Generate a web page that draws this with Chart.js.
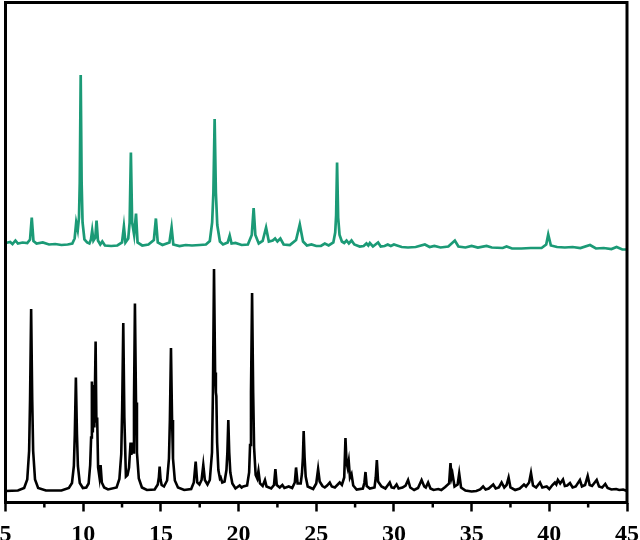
<!DOCTYPE html>
<html>
<head>
<meta charset="utf-8">
<script src="https://cdn.jsdelivr.net/npm/chart.js@4/dist/chart.umd.min.js"></script>
<style>
  html, body { margin: 0; padding: 0; background: #fff; }
  #wrap { width: 640px; height: 540px; }
</style>
</head>
<body>
<div id="wrap"><canvas id="c" width="640" height="540"></canvas></div>
<script>
// X axis tick labels (2θ)
const xTickValues = [5, 10, 15, 20, 25, 30, 35, 40, 45];

// Bottom pattern (black): [2θ, intensity]
const blackPattern = [
  [5.0,2.3],[5.8,2.4],[6.2,2.9],[6.4,4.6],[6.52,10.3],[6.58,20.5],[6.65,38.7],[6.72,20.5],[6.78,10.3],[6.9,4.6],
  [7.1,2.9],[7.6,2.4],[8.6,2.4],[9.08,2.9],[9.28,3.9],[9.40,7.3],[9.46,13.6],[9.53,25.0],[9.60,13.6],[9.66,7.3],
  [9.78,3.9],[9.98,2.9],[10.2,3.0],[10.35,3.8],[10.45,7.5],[10.51,13],[10.56,24.2],[10.62,14],[10.67,23.5],[10.72,15],
  [10.80,32.2],[10.85,16],[10.9,17],[10.96,7],[11.05,5],[11.12,7.5],[11.2,4],[11.35,3.0],[11.6,2.6],[12.15,3.0],
  [12.33,4.7],[12.45,9.7],[12.51,19],[12.58,35.9],[12.65,17],[12.75,5.2],[12.85,5.5],[12.95,7],[13.05,12.0],[13.10,9.5],
  [13.16,12.0],[13.22,10],[13.27,20],[13.33,39.8],[13.40,20],[13.46,10],[13.58,4.8],[13.78,3.0],[14.1,2.5],[14.6,2.6],
  [14.8,3.6],[14.87,5],[14.92,7.2],[14.98,4.6],[15.05,3.5],[15.2,3.2],[15.40,4.4],[15.52,8.8],[15.58,16.5],[15.65,30.9],
  [15.72,16.5],[15.78,8.8],[15.9,4.4],[16.1,3.0],[16.5,2.5],[16.95,2.7],[17.12,4],[17.24,8.2],[17.34,4],[17.48,3.6],
  [17.62,4.5],[17.73,7.5],[17.83,4.5],[18.0,3.6],[18.15,4.5],[18.29,10],[18.35,22],[18.42,46.7],[18.49,26],[18.54,22],
  [18.57,21.3],[18.62,12],[18.7,6.5],[18.8,4.8],[18.85,5.0],[18.95,4],[19.1,4.2],[19.22,6.5],[19.28,10],[19.34,16.5],
  [19.40,10],[19.47,6],[19.6,3.8],[19.8,2.8],[20.07,3.4],[20.2,3.0],[20.3,3.2],[20.55,3.4],[20.68,6],[20.74,11.5],
  [20.80,22],[20.87,41.9],[20.94,22],[21.0,11],[21.1,5.5],[21.2,4.8],[21.28,6.3],[21.38,3.8],[21.55,3.3],[21.7,4.5],
  [21.8,3.2],[22.1,2.8],[22.28,3.5],[22.37,6.7],[22.46,3.5],[22.65,3.0],[22.82,3.5],[22.95,2.9],[23.23,3.2],[23.45,2.9],
  [23.62,4],[23.70,7.0],[23.8,3.8],[24.0,3.8],[24.08,5.8],[24.14,9],[24.19,14.3],[24.25,9],[24.32,5.2],[24.45,3.2],
  [24.8,2.7],[25.0,3.8],[25.12,6.7],[25.22,4.2],[25.4,3.3],[25.55,3.0],[25.7,3.4],[25.87,4.0],[26.0,3.2],[26.2,3.0],
  [26.51,4.0],[26.65,3.5],[26.8,5],[26.88,12.9],[26.95,8],[27.02,7],[27.09,8.3],[27.17,5],[27.27,5.7],[27.38,3.4],
  [27.6,2.6],[28.0,2.8],[28.1,4],[28.17,6.1],[28.25,3.3],[28.45,2.8],[28.75,3.0],[28.83,5],[28.90,8.5],[28.98,4.2],
  [29.2,3.2],[29.45,2.8],[29.73,4.0],[29.85,3.0],[30.0,2.9],[30.17,3.6],[30.3,2.8],[30.55,3.0],[30.75,3.4],[30.91,4.5],
  [31.05,3.0],[31.3,2.5],[31.55,2.9],[31.78,4.5],[31.95,3.2],[32.05,3.0],[32.2,4.0],[32.35,2.8],[32.55,2.5],[32.85,2.7],
  [33.05,2.5],[33.3,3.1],[33.55,3.8],[33.64,7.9],[33.71,5],[33.77,5.7],[33.9,3.2],[34.1,3.6],[34.2,5.8],[34.32,3.0],
  [34.6,2.4],[35.0,2.2],[35.3,2.3],[35.55,2.6],[35.74,3.2],[35.9,2.6],[36.1,2.8],[36.39,3.6],[36.55,2.8],[36.75,3.0],
  [36.93,4.0],[37.1,3.0],[37.25,3.5],[37.38,5.0],[37.5,3.0],[37.8,2.5],[38.1,2.8],[38.37,3.6],[38.5,3.2],[38.7,4],
  [38.82,5.9],[38.95,3.4],[39.15,3.0],[39.4,4.0],[39.55,3.0],[39.83,3.2],[40.0,2.7],[40.2,3.5],[40.36,4.0],[40.45,3.6],
  [40.55,4.5],[40.7,3.8],[40.88,4.6],[41.0,3.3],[41.15,3.4],[41.33,3.9],[41.5,3.0],[41.7,3.2],[41.97,4.5],[42.1,3.2],
  [42.3,3.5],[42.47,5.3],[42.6,3.5],[42.75,3.3],[43.05,4.5],[43.2,3.2],[43.4,3.0],[43.6,3.7],[43.75,2.9],[44.0,2.6],
  [44.3,2.7],[44.5,2.5],[44.75,2.6],[45.0,2.3]
];

// Top pattern (green, offset): [2θ, intensity]
const greenPattern = [
  [5.0,51.9],[5.3,52.1],[5.45,51.7],[5.64,52.4],[5.8,51.8],[6.1,52.0],[6.4,51.9],[6.58,52.6],[6.69,57.0],[6.8,52.3],
  [7.0,51.8],[7.4,52.0],[7.8,51.6],[8.2,51.7],[8.6,51.5],[9.0,51.6],[9.3,51.8],[9.45,52.8],[9.55,56.0],[9.65,54.5],
  [9.73,57],[9.78,64],[9.84,85.5],[9.90,64],[9.96,56],[10.08,52.6],[10.25,52.0],[10.4,51.8],[10.5,52.6],[10.58,54.4],
  [10.66,52.4],[10.78,53],[10.86,56.4],[10.95,52.4],[11.1,51.6],[11.23,52.2],[11.4,51.4],[11.8,51.3],[12.2,51.4],[12.5,52],
  [12.62,55.2],[12.72,52.0],[12.9,52.8],[12.99,56],[13.07,70.0],[13.15,56],[13.28,53.5],[13.40,57.8],[13.5,52.0],[13.8,51.4],
  [14.2,51.6],[14.55,52.5],[14.68,56.8],[14.8,52.0],[15.1,51.5],[15.55,52],[15.69,55.0],[15.8,51.6],[16.2,51.3],[16.6,51.5],
  [17.0,51.4],[17.5,51.5],[17.9,51.6],[18.15,52.3],[18.3,56],[18.38,62],[18.46,76.7],[18.54,62],[18.63,55.5],[18.8,52.2],
  [19.0,51.6],[19.3,52],[19.43,53.4],[19.55,51.8],[19.8,51.9],[20.2,51.5],[20.6,51.6],[20.85,53.5],[20.97,58.9],[21.08,53.5],
  [21.3,51.8],[21.55,52.3],[21.77,55.0],[21.95,52.2],[22.2,52.4],[22.35,52.8],[22.5,52.2],[22.69,52.8],[22.9,51.6],[23.3,51.5],
  [23.7,52.5],[23.94,55.6],[24.15,52.2],[24.4,51.4],[24.69,51.6],[25.0,51.3],[25.3,51.3],[25.55,51.8],[25.8,51.4],[26.1,52],
  [26.22,54],[26.28,57.5],[26.34,68.0],[26.41,57],[26.5,53.5],[26.65,52.2],[26.8,51.9],[26.95,52.4],[27.1,51.8],[27.27,52.4],
  [27.45,51.6],[27.8,51.2],[28.05,51.3],[28.23,51.8],[28.35,51.4],[28.45,51.9],[28.65,51.2],[28.98,52.0],[29.15,51.2],[29.4,51.3],
  [29.6,51.6],[29.8,51.3],[30.0,51.6],[30.2,51.4],[30.5,51.1],[30.9,51.0],[31.4,51.1],[31.99,51.6],[32.3,51.1],[32.6,51.3],
  [33.0,51.0],[33.5,51.2],[33.92,52.4],[34.15,51.2],[34.6,51.0],[35.0,51.3],[35.4,51.0],[35.96,51.3],[36.3,51.0],[37.0,50.9],
  [37.25,51.2],[37.6,50.8],[38.2,50.8],[38.8,50.9],[39.5,50.9],[39.8,51.6],[39.93,53.6],[40.1,51.4],[40.5,51.1],[41.0,51.0],
  [41.5,51.1],[42.0,50.9],[42.62,51.5],[43.0,50.8],[43.5,50.9],[44.0,50.7],[44.33,51.1],[44.7,50.6],[45.0,50.6]
];

const toPoints = pairs => pairs.map(p => ({ x: p[0], y: p[1] }));

const framePlugin = {
  id: 'frame',
  afterDraw(chart) {
    const { ctx, chartArea: a, scales } = chart;
    ctx.save();
    // minor ticks on the bottom axis, positioned via the x scale
    ctx.strokeStyle = '#000';
    ctx.lineWidth = 2.5;
    for (let i = 0; i < xTickValues.length - 1; i++) {
      const v = (xTickValues[i] + xTickValues[i + 1]) / 2;
      const px = scales.x.getPixelForValue(v);
      ctx.beginPath();
      ctx.moveTo(px, a.bottom);
      ctx.lineTo(px, a.bottom + 5);
      ctx.stroke();
    }
    ctx.lineWidth = 3;
    ctx.strokeRect(a.left, a.top, a.right - a.left, a.bottom - a.top);
    ctx.restore();
  }
};

new Chart(document.getElementById('c'), {
  type: 'line',
  data: {
    datasets: [
      {
        label: 'top',
        data: toPoints(greenPattern),
        borderColor: '#1B9A76',
        borderWidth: 2.7,
        pointRadius: 0,
        tension: 0,
        fill: false
      },
      {
        label: 'bottom',
        data: toPoints(blackPattern),
        borderColor: '#000000',
        borderWidth: 2.6,
        pointRadius: 0,
        tension: 0,
        fill: false
      }
    ]
  },
  options: {
    responsive: false,
    animation: false,
    devicePixelRatio: 1,
    layout: { autoPadding: false, padding: { left: 5.5, right: 13, top: 2.5, bottom: 0 } },
    plugins: { legend: { display: false }, tooltip: { enabled: false } },
    scales: {
      x: {
        type: 'linear',
        min: 5,
        max: 45,
        afterBuildTicks(scale) {
          scale.ticks = xTickValues.map(v => ({ value: v }));
        },
        afterFit(scale) {
          scale.height = 37.5;
          scale.paddingLeft = 0;
          scale.paddingRight = 0;
        },
        border: { display: false },
        grid: {
          drawOnChartArea: false,
          drawTicks: true,
          tickLength: 9,
          tickWidth: 2.5,
          tickColor: '#000'
        },
        ticks: {
          color: '#000',
          padding: 9,
          maxRotation: 0,
          autoSkip: false,
          font: { family: '"Liberation Serif", "Times New Roman", serif', size: 24, weight: 'bold' }
        }
      },
      y: {
        display: false,
        min: 0,
        max: 100
      }
    }
  },
  plugins: [framePlugin]
});
</script>
</body>
</html>
